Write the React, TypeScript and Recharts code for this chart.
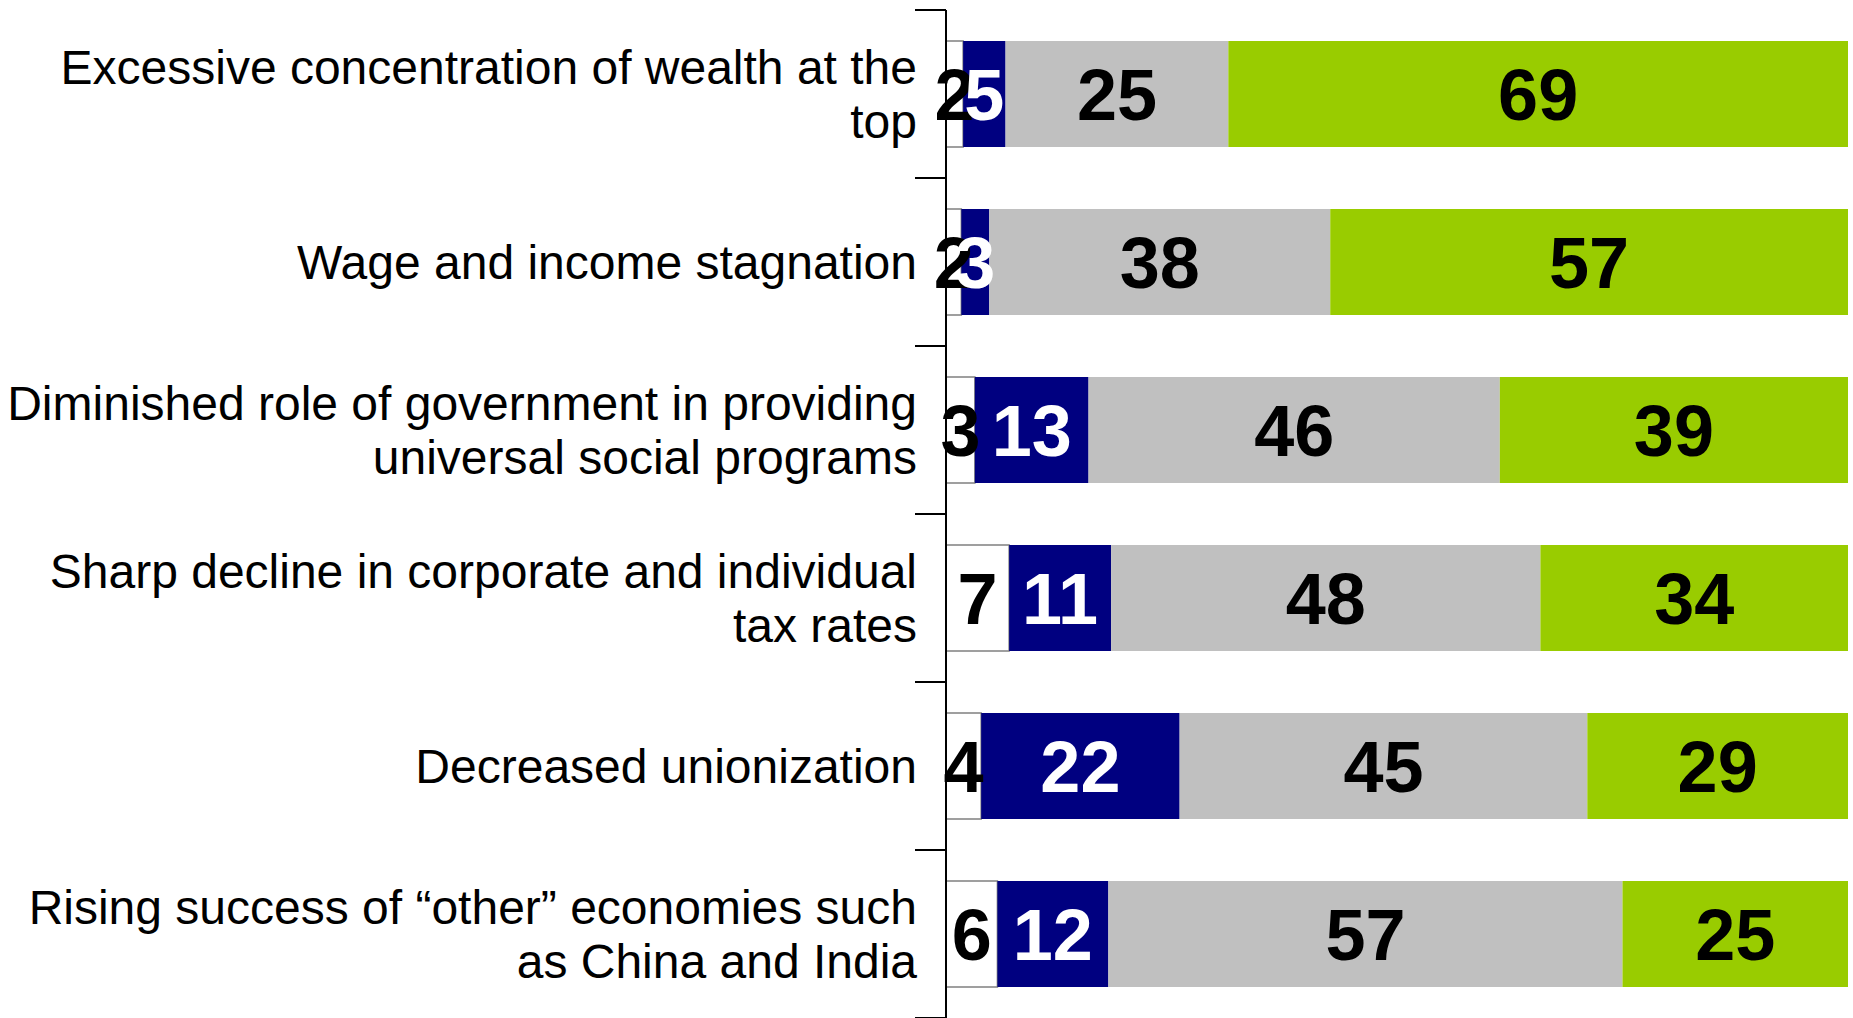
import { BarChart, Bar, XAxis, YAxis, LabelList } from "recharts";

// Factors, with the label broken the way the original chart breaks it
const CATEGORIES = [
  ["Excessive concentration of wealth at the", "top"],
  ["Wage and income stagnation"],
  ["Diminished role of government in providing", "universal social programs"],
  ["Sharp decline in corporate and individual", "tax rates"],
  ["Decreased unionization"],
  ["Rising success of \u201cother\u201d economies such", "as China and India"],
];

// Segment shares (%); labels show them rounded
const NONE = [1.9, 1.7, 3.2, 7.0, 3.9, 5.7];
const MINOR = [4.7, 3.1, 12.6, 11.3, 22.0, 12.3];
const MODERATE = [24.7, 37.8, 45.6, 47.6, 45.2, 57.0];
const MAJOR = [68.7, 57.4, 38.6, 34.1, 28.9, 25.0];

const WIDTH = 1853;
const HEIGHT = 1018;
const MARGIN = { top: 10, right: 5, bottom: 0, left: 0 };
const AXIS_W = 946;
const TICK_LEN = 31;
const BAND = (HEIGHT - MARGIN.top - MARGIN.bottom) / CATEGORIES.length;
const FONT = "'Liberation Sans', Arial, Helvetica, sans-serif";
const LINE_H = 54;

const data = CATEGORIES.map((lines, i) => ({
  name: lines.join(" "),
  none: NONE[i],
  minor: MINOR[i],
  moderate: MODERATE[i],
  major: MAJOR[i],
}));

const round = (v: any) => Math.round(Number(v));

function CategoryTick(props: any) {
  const { x, y, index } = props;
  const lines = CATEGORIES[index] || [];
  const top = y - BAND / 2;
  const firstDy = -((lines.length - 1) * LINE_H) / 2;
  return (
    <g>
      <line x1={x} x2={x + TICK_LEN} y1={top} y2={top} stroke="#000" strokeWidth={2} />
      {index === CATEGORIES.length - 1 && (
        <line x1={x} x2={x + TICK_LEN} y1={y + BAND / 2} y2={y + BAND / 2} stroke="#000" strokeWidth={2} />
      )}
      <text
        x={x + 2}
        y={y + firstDy}
        textAnchor="end"
        dominantBaseline="central"
        fontFamily={FONT}
        fontSize={48}
        fill="#000"
      >
        {lines.map((l, i) => (
          <tspan key={i} x={x + 2} y={y + firstDy + i * LINE_H} dominantBaseline="central">
            {l}
          </tspan>
        ))}
      </text>
    </g>
  );
}

const labelStyle = {
  fontFamily: FONT,
  fontSize: 72,
  fontWeight: 700,
};

export default function App() {
  return (
    <div style={{ position: "absolute", left: 0, top: 0, width: WIDTH, height: HEIGHT, background: "#fff" }}>
      <BarChart width={WIDTH} height={HEIGHT} data={data} layout="vertical" margin={MARGIN} barSize={106}>
        <XAxis type="number" domain={[0, 100]} allowDataOverflow hide />
        <YAxis
          type="category"
          dataKey="name"
          width={AXIS_W}
          interval={0}
          tickSize={TICK_LEN}
          tickMargin={0}
          tickLine={false}
          axisLine={{ stroke: "#000", strokeWidth: 2 }}
          tick={<CategoryTick />}
        />
        <Bar dataKey="none" stackId="a" fill="#FFFFFF" stroke="#808080" strokeWidth={1.5} isAnimationActive={false}>
          <LabelList dataKey="none" position="center" formatter={round} fill="#000" {...labelStyle} />
        </Bar>
        <Bar dataKey="minor" stackId="a" fill="#000080" isAnimationActive={false}>
          <LabelList dataKey="minor" position="center" formatter={round} fill="#fff" {...labelStyle} />
        </Bar>
        <Bar dataKey="moderate" stackId="a" fill="#C0C0C0" isAnimationActive={false}>
          <LabelList dataKey="moderate" position="center" formatter={round} fill="#000" {...labelStyle} />
        </Bar>
        <Bar dataKey="major" stackId="a" fill="#99CC00" isAnimationActive={false}>
          <LabelList dataKey="major" position="center" formatter={round} fill="#000" {...labelStyle} />
        </Bar>
      </BarChart>
    </div>
  );
}
